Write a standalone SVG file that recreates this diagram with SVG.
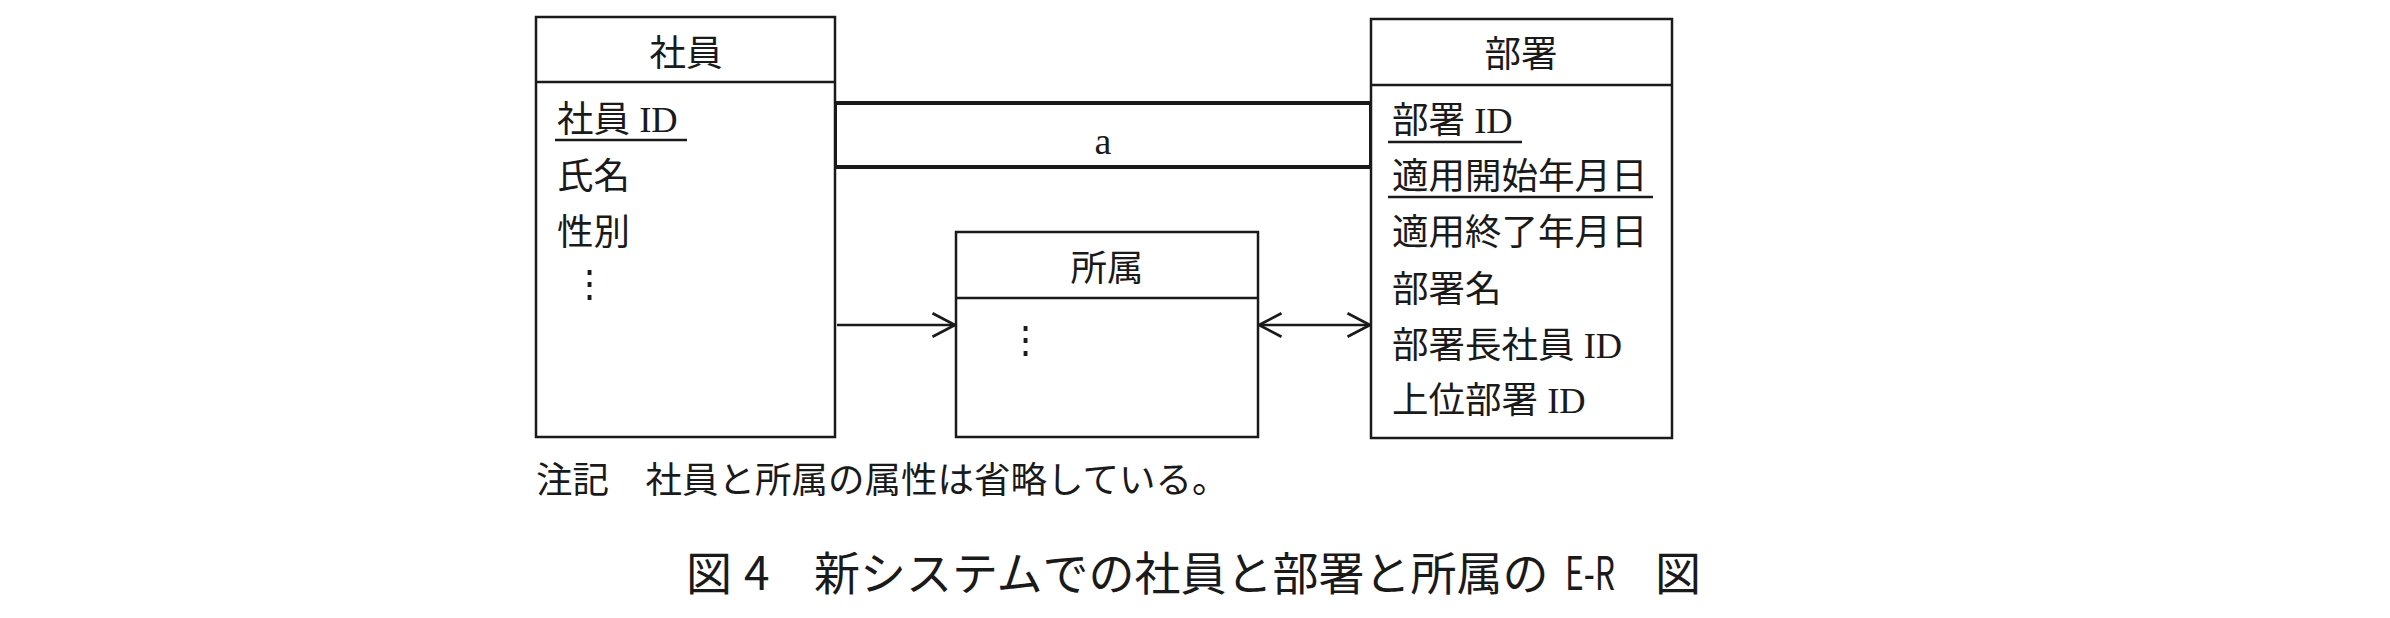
<svg xmlns="http://www.w3.org/2000/svg" width="2390" height="618" viewBox="0 0 2390 618">
<style>
.box{fill:#fff;stroke:#1a1a1a;stroke-width:2.5}
.sep{stroke:#1a1a1a;stroke-width:2.5}
.rel{fill:none;stroke:#1a1a1a;stroke-width:4}
.conn{fill:none;stroke:#1a1a1a;stroke-width:2.5}
.ul{stroke:#1a1a1a;stroke-width:2.5}
text{fill:#1a1a1a}
.jp{font-family:"Noto Sans CJK JP","Noto Sans",sans-serif;font-size:36.5px}
.lat{font-family:"Liberation Serif",serif}
.mid{text-anchor:middle}
.cap{font-family:"Noto Sans CJK JP","Noto Sans",sans-serif;font-size:46px}
</style>
<defs>
<marker id="v" markerUnits="userSpaceOnUse" markerWidth="30" markerHeight="30" viewBox="-24 -14 28 28" refX="0" refY="0" orient="auto-start-reverse">
<path d="M -21 -11 L 0 0 L -21 11" fill="none" stroke="#1a1a1a" stroke-width="2.5"/>
</marker>
</defs>
<g id="connectors">
<rect id="rel-a" class="rel" x="835" y="103" width="536" height="64"/>
<text class="lat mid" x="1103" y="154" font-size="38">a</text>
<line class="conn" x1="837" y1="325" x2="955" y2="325" marker-end="url(#v)"/>
<line class="conn" x1="1259" y1="325" x2="1370" y2="325" marker-start="url(#v)" marker-end="url(#v)"/>
</g>
<g id="shain">
<rect class="box" x="536" y="17" width="299" height="420"/>
<line class="sep" x1="536" y1="82" x2="835" y2="82"/>
<text class="jp mid" x="686" y="66">社員</text>
<text class="jp" x="557" y="132">社員<tspan class="lat"> ID</tspan></text>
<line class="ul" x1="555" y1="140" x2="687" y2="140"/>
<text class="jp" x="557" y="189">氏名</text>
<text class="jp" x="557" y="245">性別</text>
<text class="jp mid" x="589" y="296">⋮</text>
</g>
<g id="shozoku">
<rect class="box" x="956" y="232" width="302" height="205"/>
<line class="sep" x1="956" y1="298" x2="1258" y2="298"/>
<text class="jp mid" x="1107" y="281">所属</text>
<text class="jp mid" x="1025" y="352">⋮</text>
</g>
<g id="busho">
<rect class="box" x="1371" y="19" width="301" height="419"/>
<line class="sep" x1="1371" y1="85" x2="1672" y2="85"/>
<text class="jp mid" x="1521" y="67">部署</text>
<text class="jp" x="1392" y="133">部署<tspan class="lat"> ID</tspan></text>
<line class="ul" x1="1388" y1="142" x2="1522" y2="142"/>
<text class="jp" x="1392" y="189">適用開始年月日</text>
<line class="ul" x1="1388" y1="197" x2="1653" y2="197"/>
<text class="jp" x="1392" y="245">適用終了年月日</text>
<text class="jp" x="1392" y="302">部署名</text>
<text class="jp" x="1392" y="358">部署長社員<tspan class="lat"> ID</tspan></text>
<text class="jp" x="1392" y="413">上位部署<tspan class="lat"> ID</tspan></text>
</g>
<g id="note">
<text class="jp" x="536" y="493" font-size="37">注記　社員と所属の属性は省略している。</text>
</g>
<g id="caption">
<text class="cap" y="590"><tspan x="686">図</tspan><tspan x="744">4</tspan><tspan x="814">新システムでの社員と部署と所属の</tspan><tspan x="1565" textLength="50" lengthAdjust="spacingAndGlyphs">E-R</tspan><tspan x="1655">図</tspan></text>
</g>
</svg>
